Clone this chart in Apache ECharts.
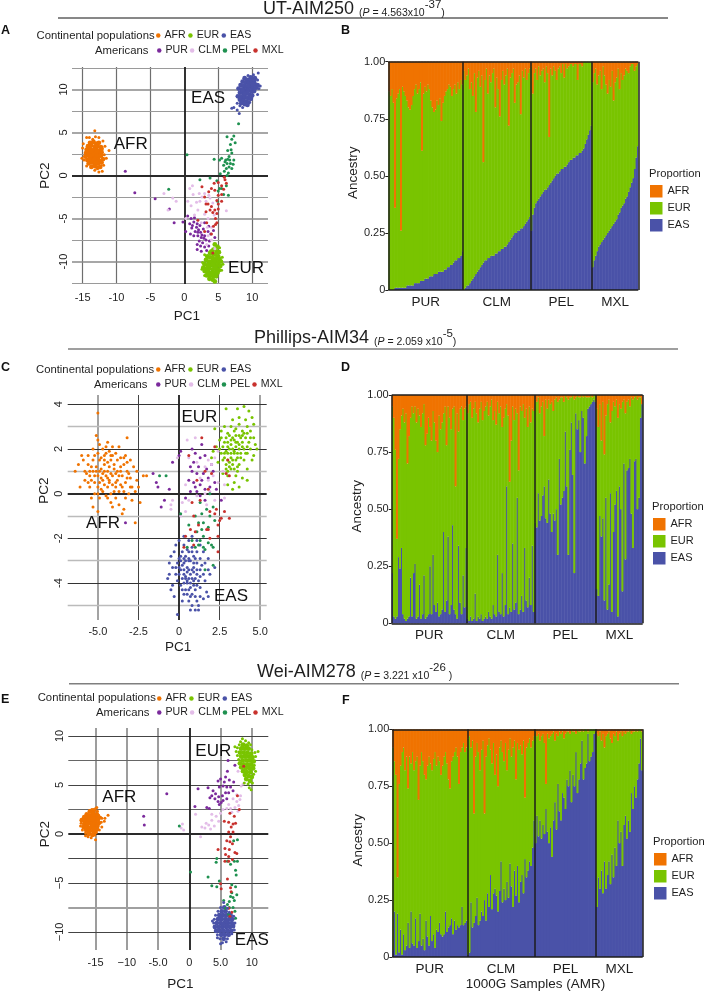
<!DOCTYPE html>
<html><head><meta charset="utf-8">
<style>html,body{margin:0;padding:0;background:#fff}#c{width:704px;height:992px}</style>
<script src="https://cdn.jsdelivr.net/npm/echarts@6/dist/echarts.min.js"></script></head>
<body><div id="c"></div><script>
// ---------- Panel A scatter values (PC1, PC2)
const A_AFR=[[-13.9,3.8],[-13.4,3.9],[-13.0,3.7],[-12.6,3.8],[-14.2,3.4],[-13.7,3.5],[-13.2,3.3],[-12.8,3.4],[-12.3,3.3],[-14.4,3.0],[-13.9,3.1],[-13.5,2.9],[-13.0,3.0],[-12.6,2.9],[-12.2,3.1],[-14.5,2.6],[-14.0,2.7],[-13.6,2.5],[-13.1,2.6],[-12.7,2.5],[-12.2,2.7],[-14.6,2.2],[-14.1,2.3],[-13.6,2.1],[-13.2,2.2],[-12.7,2.1],[-12.3,2.3],[-14.3,1.8],[-13.9,1.9],[-13.4,1.7],[-12.9,1.8],[-12.5,1.7],[-12.0,1.9],[-14.1,1.4],[-13.6,1.5],[-13.1,1.3],[-12.7,1.4],[-12.2,1.5],[-13.7,1.0],[-13.2,1.1],[-12.8,0.9],[-12.4,1.0],[-13.3,3.0],[-13.4,2.4],[-12.9,2.3],[-13.8,2.3],[-13.3,1.9],[-13.7,2.8],[-12.9,2.8],[-13.8,1.6],[-12.9,1.5]];
const A_AFR_EDGE=[[-13.2,5.2],[-14.4,4.4],[-14.0,4.4],[-13.5,4.2],[-13.1,4.5],[-12.6,4.4],[-12.0,4.0],[-11.7,3.4],[-11.8,2.4],[-11.5,2.0],[-11.1,2.9],[-14.9,3.7],[-15.0,3.2],[-15.1,2.0],[-14.8,1.8],[-14.4,1.1],[-13.2,0.6],[-12.6,0.4],[-12.1,0.5],[-11.9,1.2]];
const A_EUR=[[4.5,-8.0],[4.9,-8.3],[4.3,-8.6],[4.8,-8.8],[5.1,-8.9],[3.8,-9.0],[4.2,-9.1],[4.6,-9.2],[5.0,-9.4],[3.4,-9.4],[3.8,-9.5],[4.2,-9.6],[4.7,-9.7],[5.2,-9.7],[3.2,-9.8],[3.6,-10.0],[4.1,-10.0],[4.5,-10.1],[5.0,-10.1],[5.4,-10.0],[3.0,-10.3],[3.5,-10.4],[3.9,-10.4],[4.4,-10.5],[4.8,-10.5],[5.3,-10.5],[2.8,-10.7],[3.3,-10.8],[3.7,-10.8],[4.2,-10.9],[4.7,-10.9],[5.1,-11.0],[3.0,-11.1],[3.5,-11.2],[4.0,-11.3],[4.4,-11.3],[4.9,-11.3],[3.3,-11.6],[3.8,-11.6],[4.3,-11.7],[4.7,-11.7],[3.7,-12.0],[4.2,-12.1],[4.5,-12.3],[4.0,-8.8],[4.4,-9.9],[3.9,-10.1],[4.6,-10.7],[3.6,-10.5],[4.2,-10.3],[3.4,-11.5],[4.1,-11.6]];
const A_EUR_EDGE=[[3.0,-9.2],[2.7,-10.1],[2.6,-10.9],[3.0,-11.6],[5.6,-9.5],[5.7,-10.3],[5.5,-11.0],[5.2,-8.4]];
const A_EAS=[[9.8,11.4],[10.4,11.3],[8.9,11.3],[9.3,11.1],[9.8,11.0],[10.3,11.0],[8.6,10.9],[9.0,10.8],[9.5,10.7],[9.9,10.7],[10.4,10.6],[10.8,10.5],[8.3,10.5],[8.8,10.4],[9.2,10.3],[9.7,10.3],[10.1,10.2],[10.6,10.2],[8.0,10.1],[8.5,10.0],[8.9,9.9],[9.4,9.9],[9.9,9.8],[10.3,9.8],[8.2,9.6],[8.7,9.5],[9.1,9.5],[9.6,9.4],[10.0,9.3],[7.9,9.2],[8.4,9.1],[8.9,9.1],[9.4,9.0],[9.8,8.9],[8.2,8.8],[8.7,8.7],[9.1,8.6],[9.5,8.5],[8.4,8.4],[8.9,8.3],[9.3,8.2],[9.4,10.4],[9.3,9.6],[8.6,9.9],[10.1,10.6],[8.9,9.5]];
const A_EAS_EDGE=[[10.9,11.9],[10.2,11.7],[9.4,11.6],[10.8,11.1],[7.8,8.4],[8.2,8.1],[8.6,7.9],[7.3,7.9],[7.8,7.6],[8.1,7.2],[7.0,7.8],[10.8,9.4],[11.0,10.1],[11.2,10.4]];
const A_PUR=[[-8.7,0.5],[-7.3,-2.0],[-4.3,-2.7],[-2.2,-3.9],[-1.5,-5.5],[-0.2,-5.4],[0.2,-6.5],[0.5,-4.7],[1.0,-5.0],[1.5,-4.9],[0.8,-5.6],[1.4,-5.4],[1.9,-5.6],[1.1,-6.1],[1.6,-6.5],[2.1,-6.3],[2.4,-6.6],[2.8,-6.2],[1.4,-7.0],[2.0,-7.0],[2.5,-7.2],[3.0,-7.0],[3.5,-6.5],[2.2,-7.6],[2.7,-7.8],[3.2,-7.5],[3.7,-7.6],[2.4,-8.2],[3.0,-8.3],[1.9,-8.6],[2.5,-8.8],[3.3,-8.7],[1.9,-8.0],[3.6,-5.9],[4.3,-6.4],[4.5,-7.2],[3.6,-8.2],[0.9,-6.8],[2.3,-5.8],[3.0,-5.5],[1.8,-6.0],[2.6,-6.9],[1.2,-5.8],[2.0,-6.6],[2.9,-7.3],[3.9,-6.8]];
const A_CLM=[[1.2,-1.2],[0.8,-1.5],[-3.0,-2.1],[2.2,-2.1],[1.3,-2.2],[3.6,-2.3],[3.0,-2.1],[-1.7,-2.6],[-1.2,-3.0],[3.8,-2.6],[0.5,-3.0],[2.3,-3.0],[-2.4,-4.0],[1.0,-3.5],[2.0,-4.0],[3.0,-4.5],[6.2,-4.1],[1.5,-4.6],[3.5,-5.0],[2.5,-5.5],[4.0,-6.0],[3.5,-7.0],[3.3,-8.0],[4.5,-8.5],[4.0,-7.5],[3.2,-3.0],[2.6,-2.5],[4.2,-3.2],[0.2,-5.0],[1.8,-3.1],[4.4,-4.6],[3.4,-6.0]];
const A_PEL=[[8.0,6.0],[6.3,4.5],[7.3,4.6],[7.0,4.2],[7.5,3.8],[6.8,3.6],[6.9,3.0],[6.4,2.9],[7.0,2.6],[6.6,2.2],[4.4,1.9],[5.2,1.8],[6.1,1.8],[6.7,1.8],[7.3,1.8],[6.3,1.4],[6.8,1.4],[5.8,1.2],[6.6,1.0],[6.2,0.8],[7.0,0.8],[5.9,0.5],[6.5,0.3],[5.3,0.2],[0.4,2.4],[2.3,-0.5],[5.2,-1.5],[6.2,-1.2],[5.0,-1.8],[5.8,-2.2],[6.5,-2.3],[-2.3,-1.6],[3.8,-0.3],[4.8,-0.6],[6.0,1.6],[6.4,1.9],[5.5,2.0],[7.2,1.3],[6.3,0.0],[4.9,-3.0],[5.5,-1.5]];
const A_MXL=[[5.0,-0.8],[4.4,-0.9],[6.0,-0.5],[5.5,-1.2],[4.5,-1.7],[6.2,-0.9],[4.0,-1.5],[5.0,-2.3],[3.0,-2.5],[5.5,-2.2],[4.8,-2.9],[5.5,-3.0],[5.0,-3.3],[3.5,-3.3],[4.0,-3.6],[3.2,-3.3],[5.0,-3.9],[4.5,-4.0],[3.8,-4.0],[4.2,-4.3],[4.8,-4.4],[4.6,-5.0],[4.8,-5.5],[4.6,-5.7],[3.3,-5.5],[4.3,-5.9],[2.0,-5.2],[3.0,-6.5],[4.0,-6.8],[4.2,-9.0],[2.6,-1.3],[3.6,-1.9],[5.8,-1.6],[5.9,-0.2],[3.2,-4.2]];
// ---------- Panel C scatter values
const C_AFR=[[-5.0,3.6],[-5.1,2.6],[-5.0,2.4],[-3.2,2.5],[-4.4,2.3],[-4.9,2.2],[-4.1,2.1],[-5.3,2.0],[-4.7,2.0],[-3.7,2.1],[-4.3,1.9],[-3.9,1.8],[-5.0,1.8],[-5.6,1.7],[-4.6,1.7],[-3.3,1.7],[-6.0,1.7],[-5.9,1.5],[-5.3,1.5],[-4.9,1.5],[-4.2,1.5],[-3.6,1.6],[-3.0,1.5],[-6.2,1.3],[-5.6,1.3],[-5.1,1.2],[-4.6,1.3],[-4.0,1.3],[-3.4,1.3],[-2.8,1.2],[-6.4,1.0],[-5.8,1.0],[-5.3,1.0],[-4.8,1.1],[-4.4,1.0],[-3.8,1.0],[-3.2,1.0],[-2.6,1.0],[-5.5,0.8],[-5.0,0.8],[-4.5,0.8],[-4.1,0.8],[-3.5,0.8],[-3.0,0.7],[-5.8,0.6],[-5.2,0.5],[-4.7,0.6],[-4.3,0.6],[-3.8,0.6],[-3.3,0.5],[-2.6,0.6],[-6.1,0.3],[-5.5,0.3],[-5.0,0.3],[-4.4,0.3],[-3.9,0.3],[-3.5,0.3],[-2.9,0.3],[-2.5,0.3],[-5.2,0.0],[-4.7,0.1],[-4.2,0.0],[-3.7,0.1],[-3.1,0.0],[-2.7,0.1],[-4.9,-0.2],[-4.4,-0.2],[-3.9,-0.2],[-3.3,-0.2],[-5.4,-0.2],[-4.2,-0.4],[-3.7,-0.5],[-2.9,-0.3],[-5.3,-0.6],[-4.1,-0.6],[-3.4,-0.7],[-5.0,-0.8],[-3.5,-0.9],[-2.4,-0.4],[-2.7,-1.3],[-4.6,1.5],[-4.0,1.1],[-4.3,1.2],[-4.7,0.9],[-3.6,1.2],[-4.9,0.5],[-4.5,1.8],[-3.9,0.5],[-2.2,0.8],[-2.0,0.8],[-4.5,2.1],[-4.1,1.7],[-4.8,1.6],[-5.2,1.7],[-3.8,1.5],[-4.4,1.4],[-5.4,1.2],[-3.6,1.0],[-4.2,0.9],[-4.9,1.0],[-3.9,0.9],[-5.2,0.8],[-4.6,0.4],[-3.7,0.8],[-4.1,0.4],[-3.4,0.1],[-4.5,-0.1],[-5.0,0.0],[-3.2,0.7],[-5.6,0.5],[-4.8,0.7],[-4.4,0.7],[-3.6,0.4],[-4.0,0.1],[-4.6,1.0],[-5.5,1.0],[-3.2,1.4],[-4.2,1.7],[-3.4,1.6],[-5.1,1.0],[-4.3,0.5],[-4.8,0.2],[-3.0,0.3],[-5.7,0.9],[-5.4,0.6],[-3.1,0.9]];
const C_EUR=[[4.0,3.9],[3.6,3.8],[4.3,3.7],[2.9,3.8],[3.7,3.4],[4.5,3.4],[4.1,3.3],[3.3,3.3],[4.6,3.1],[3.7,3.1],[3.2,3.0],[2.8,3.0],[4.2,3.0],[2.2,2.9],[2.6,2.8],[3.0,2.7],[3.4,2.8],[3.9,2.8],[4.4,2.8],[2.9,2.5],[3.3,2.5],[3.7,2.6],[4.1,2.5],[4.6,2.5],[2.5,2.4],[3.0,2.3],[3.5,2.3],[3.9,2.3],[4.3,2.3],[4.7,2.2],[2.3,2.1],[2.7,2.1],[3.1,2.0],[3.5,2.1],[4.0,2.0],[4.4,2.0],[4.8,2.0],[2.1,1.9],[2.6,1.8],[3.0,1.8],[3.4,1.8],[3.8,1.8],[4.2,1.8],[4.6,1.7],[2.0,1.6],[2.8,1.6],[3.2,1.6],[3.6,1.6],[4.0,1.5],[4.5,1.5],[2.4,1.4],[2.9,1.3],[3.3,1.3],[3.7,1.3],[2.9,1.1],[3.2,1.1],[3.6,1.0],[4.2,1.1],[2.7,0.9],[3.0,0.8],[3.5,0.8],[3.9,0.7],[3.4,0.5],[3.0,0.4],[3.7,0.3],[4.2,0.6],[3.3,0.2],[2.6,2.5],[3.2,2.2],[3.7,2.0],[3.3,1.5],[3.0,1.5],[4.2,2.7],[3.5,2.6],[3.1,2.6],[3.4,2.4],[3.8,2.5],[4.0,2.7],[2.8,2.3],[3.3,2.0],[3.6,2.3],[4.2,2.1],[2.9,1.9],[3.2,1.8],[3.6,1.8],[3.9,2.1],[2.7,1.5],[3.1,1.4],[3.5,1.5],[3.8,1.6],[3.4,1.1],[3.1,1.2],[3.0,2.1],[2.5,2.0],[3.5,2.9],[4.4,2.5],[3.7,2.2],[3.4,1.9],[3.2,2.4],[3.9,2.6],[3.0,1.0],[2.8,1.8],[4.1,1.8],[3.6,1.2]];
const C_EAS=[[0.3,-1.9],[0.8,-1.9],[0.0,-2.1],[0.6,-2.1],[1.1,-2.1],[-0.2,-2.3],[0.3,-2.3],[0.8,-2.4],[1.3,-2.3],[-0.3,-2.6],[0.2,-2.6],[0.6,-2.6],[1.1,-2.6],[1.5,-2.6],[-0.5,-2.8],[0.0,-2.9],[0.4,-2.8],[0.9,-2.8],[1.3,-2.9],[1.8,-2.9],[-0.6,-3.1],[-0.1,-3.1],[0.3,-3.1],[0.7,-3.0],[1.1,-3.1],[1.6,-3.1],[-0.4,-3.3],[0.1,-3.4],[0.5,-3.3],[0.9,-3.3],[1.3,-3.4],[1.8,-3.4],[2.2,-3.3],[-0.6,-3.6],[-0.2,-3.6],[0.3,-3.6],[0.7,-3.6],[1.1,-3.6],[1.5,-3.6],[1.9,-3.6],[-0.7,-3.8],[-0.1,-3.9],[0.4,-3.8],[0.8,-3.8],[1.2,-3.9],[1.6,-3.9],[-0.4,-4.1],[0.1,-4.1],[0.5,-4.0],[0.9,-4.1],[1.3,-4.2],[-0.5,-4.3],[0.2,-4.3],[0.6,-4.3],[1.0,-4.3],[1.7,-4.4],[-0.3,-4.6],[0.3,-4.5],[0.7,-4.6],[1.3,-4.6],[1.8,-4.6],[0.2,-4.8],[0.6,-4.8],[1.1,-4.8],[1.5,-4.7],[0.8,-5.0],[1.2,-5.0],[1.0,-5.2],[0.7,-5.2],[1.2,-5.2],[-0.1,-5.4],[0.6,-3.4],[0.4,-3.0],[0.7,-4.0],[0.9,-3.5],[0.5,-3.9],[1.0,-2.9],[0.2,-3.8],[0.5,-2.5],[0.8,-2.6],[0.3,-2.9],[0.6,-3.0],[0.9,-3.1],[0.2,-3.2],[0.5,-3.5],[0.8,-3.4],[1.1,-3.4],[0.0,-3.6],[0.3,-3.4],[0.6,-3.8],[1.0,-3.8],[0.3,-4.0],[0.7,-4.2],[1.1,-4.1],[0.4,-4.3],[0.8,-4.5],[0.0,-3.3],[1.4,-3.2],[1.3,-3.7],[-0.2,-3.3],[0.1,-2.8],[0.6,-2.9],[0.4,-3.7],[0.9,-3.9],[0.5,-4.5],[1.0,-4.6],[0.1,-3.0]];
const C_PUR=[[-1.6,0.9],[-1.4,0.5],[-1.3,0.3],[-1.1,-0.6],[-0.6,0.2],[0.1,1.9],[0.0,1.7],[-0.4,1.4],[0.8,2.0],[1.0,1.8],[1.3,1.6],[0.9,1.4],[1.6,1.7],[0.7,1.2],[1.2,1.2],[1.7,1.1],[2.0,1.3],[1.1,0.9],[1.5,0.9],[2.1,1.0],[0.6,0.6],[0.9,0.5],[1.4,0.6],[1.8,0.7],[2.2,0.5],[0.7,0.1],[1.1,0.1],[1.6,0.2],[0.4,-0.2],[1.3,-0.1],[1.6,-0.3],[-3.3,-1.3],[-0.9,-0.3],[0.8,1.0],[1.4,2.2],[2.3,0.2],[1.0,0.3],[1.9,0.3],[1.3,0.4],[2.6,-0.3]];
const C_CLM=[[0.5,2.4],[1.0,2.5],[-0.1,1.6],[0.6,1.6],[1.1,1.4],[1.8,1.5],[2.2,1.6],[2.7,1.0],[1.6,1.2],[2.1,0.8],[1.8,0.6],[1.3,0.7],[2.4,0.5],[2.8,0.4],[0.4,0.4],[1.1,-0.1],[0.6,-0.3],[0.2,-0.4],[-0.4,-0.3],[-0.5,-0.5],[-0.5,-0.7],[0.4,-0.8],[1.7,-0.5],[2.2,-0.3],[1.6,0.0],[1.9,0.1],[2.8,-0.2],[2.0,1.3],[2.4,1.9],[0.1,-1.0]];
const C_PEL=[[-1.2,0.8],[-0.8,0.8],[1.3,-0.4],[1.9,0.0],[1.4,-0.9],[1.0,-1.0],[1.7,-0.7],[2.1,-0.6],[1.5,-1.3],[1.2,-1.3],[1.9,-1.0],[0.6,-1.4],[1.4,-1.6],[1.8,-1.5],[1.1,-1.7],[1.5,-1.9],[1.3,-2.1],[0.8,-2.1],[1.8,-2.2],[1.2,-2.3],[0.5,-2.4],[1.0,-2.4],[1.5,-2.4],[2.0,-2.3],[2.1,-2.4],[1.6,-2.5],[2.1,-3.2],[1.6,-3.4],[0.1,-0.9],[2.2,-1.2]];
const C_MXL=[[1.4,2.5],[2.2,2.1],[1.1,0.6],[2.0,0.9],[2.9,0.9],[3.1,0.8],[1.8,0.2],[0.8,-0.4],[1.3,-0.3],[2.3,-0.7],[2.8,-0.8],[1.9,-0.8],[2.2,-0.9],[0.9,-1.0],[1.2,-1.4],[2.5,-1.2],[2.6,-1.1],[3.1,-1.1],[0.7,-1.6],[1.8,-1.6],[2.4,-1.4],[1.0,-1.7],[1.7,-1.6],[0.4,-1.9],[1.9,-2.0],[2.4,-1.9],[0.9,-2.3],[0.3,-2.4],[2.4,-2.6],[3.0,1.5],[1.6,1.0],[0.6,1.7]];
// ---------- Panel E scatter values
const E_AFR=[[-15.3,2.4],[-15.9,2.3],[-15.4,2.1],[-14.8,2.0],[-16.4,2.0],[-15.9,1.9],[-15.3,1.8],[-14.6,1.8],[-16.8,1.7],[-16.3,1.6],[-15.7,1.6],[-15.1,1.5],[-14.6,1.5],[-17.2,1.4],[-16.7,1.3],[-16.1,1.3],[-15.6,1.3],[-15.0,1.2],[-14.5,1.1],[-16.8,1.0],[-16.3,1.0],[-15.7,1.0],[-15.2,0.9],[-14.7,0.8],[-16.9,0.7],[-16.4,0.7],[-15.9,0.6],[-15.3,0.6],[-14.8,0.5],[-16.5,0.4],[-16.0,0.3],[-15.4,0.3],[-15.0,0.2],[-16.1,0.0],[-15.5,-0.1],[-15.5,0.9],[-16.1,1.8],[-16.0,1.5],[-15.4,1.5]];
const E_AFR_EDGE=[[-14.8,2.7],[-14.7,2.3],[-14.2,1.7],[-17.3,1.1],[-17.4,0.8],[-17.1,0.4],[-16.6,0.1],[-15.1,-0.1],[-16.2,-0.3],[-15.7,-0.4],[-15.0,-0.6],[-16.6,-0.2],[-14.1,1.2],[-14.0,1.6],[-13.6,1.3],[-13.0,1.9],[-13.5,1.6],[-14.0,0.7],[-14.4,0.4],[-15.6,2.5],[-15.0,2.6]];
const E_EUR=[[8.6,9.1],[9.2,9.0],[8.3,8.7],[8.9,8.7],[9.5,8.7],[8.1,8.3],[8.7,8.3],[9.3,8.3],[9.9,8.2],[8.3,7.9],[8.9,7.9],[9.5,7.9],[10.1,7.8],[8.5,7.5],[9.1,7.5],[9.7,7.5],[10.3,7.4],[8.1,7.2],[8.7,7.1],[9.3,7.1],[9.9,7.1],[8.3,6.8],[9.0,6.7],[9.6,6.7],[10.2,6.7],[8.6,6.4],[9.2,6.3],[9.8,6.3],[8.9,6.0],[9.5,5.9],[10.0,5.8],[9.1,5.6],[9.7,5.4],[9.0,8.0],[9.4,7.0],[8.5,8.8],[9.9,7.9]];
const E_EUR_EDGE=[[8.5,9.7],[9.0,9.5],[8.2,9.4],[9.5,9.3],[8.0,9.1],[9.8,9.1],[7.7,8.8],[10.0,8.6],[7.5,8.4],[10.5,8.3],[11.0,8.4],[7.7,8.0],[10.6,7.9],[7.9,7.6],[10.4,7.0],[10.3,6.1],[9.4,5.1],[10.1,5.2],[9.6,4.7],[9.9,4.5],[8.8,5.2],[10.6,6.4],[7.3,8.9]];
const E_EAS=[[5.6,-7.5],[5.2,-7.9],[5.8,-7.9],[4.8,-8.3],[5.4,-8.3],[6.0,-8.3],[6.6,-8.3],[4.6,-8.7],[5.2,-8.7],[5.8,-8.7],[6.4,-8.7],[4.4,-9.1],[5.0,-9.1],[5.6,-9.1],[6.2,-9.1],[6.8,-9.1],[4.7,-9.5],[5.3,-9.5],[5.9,-9.5],[6.5,-9.5],[4.9,-9.9],[5.5,-9.9],[6.1,-9.9],[6.7,-9.9],[5.1,-10.3],[5.7,-10.3],[6.3,-10.3],[5.5,-10.7],[5.4,-9.2],[5.9,-8.9],[5.0,-8.5],[6.1,-9.4],[4.3,-9.9],[4.1,-9.5],[6.8,-8.7],[7.0,-9.4]];
const E_EAS_EDGE=[[5.5,-7.0],[5.0,-7.5],[6.1,-7.6],[4.6,-7.9],[6.4,-8.0],[4.2,-8.3],[7.1,-8.4],[4.0,-8.7],[7.0,-8.7],[3.9,-9.1],[7.3,-9.1],[7.1,-9.5],[7.2,-9.8],[4.5,-10.3],[6.8,-10.2],[4.9,-10.7],[6.1,-10.7],[5.3,-11.1],[5.0,-11.2],[5.9,-11.0],[4.5,-10.6],[3.7,-8.9]];
const E_PUR=[[-7.3,1.8],[-7.2,0.9],[-3.6,4.1],[1.4,4.6],[0.9,2.8],[3.0,4.7],[3.8,4.4],[4.2,4.1],[4.8,4.8],[5.4,4.9],[6.0,4.8],[6.6,4.8],[7.1,5.3],[5.0,5.6],[5.6,5.3],[4.6,5.4],[5.8,5.8],[6.4,5.5],[3.6,3.9],[4.1,3.6],[4.7,3.8],[5.3,3.9],[5.8,4.2],[6.3,4.2],[2.8,2.7],[3.2,2.6],[4.6,3.3],[5.1,3.2],[4.8,3.0],[5.4,3.4],[6.0,3.6],[7.0,4.4],[6.1,6.4],[7.3,7.0],[6.2,7.5],[3.3,3.7]];
const E_CLM=[[-1.1,1.0],[-1.3,0.6],[-0.9,0.4],[1.8,-0.3],[2.0,0.7],[2.5,0.6],[3.4,0.5],[3.1,0.9],[4.0,0.8],[2.7,1.1],[3.6,1.4],[4.7,1.3],[1.0,2.0],[3.6,2.0],[5.0,2.1],[4.3,1.8],[5.4,2.5],[6.0,2.6],[6.6,2.6],[7.3,2.7],[7.9,2.9],[6.3,3.0],[7.6,3.3],[8.1,3.5],[7.0,3.6],[6.8,2.2],[7.8,2.3],[8.2,3.9],[8.3,4.9],[8.6,5.1],[7.8,6.4],[7.6,4.0]];
const E_PEL=[[-1.6,0.8],[0.2,-3.9],[3.0,-4.4],[3.6,-5.3],[4.4,-5.4],[4.8,-4.8],[4.4,-2.5],[4.3,-2.9],[7.1,-0.7],[7.7,-0.6],[7.2,-2.8],[7.7,-2.8],[6.1,-2.8],[6.6,-3.1],[7.4,-3.7],[7.5,-4.2],[6.8,-5.2],[7.4,-5.4],[6.8,-6.0],[7.0,-6.5],[6.4,-6.9],[7.2,-6.8],[7.6,-6.2],[5.5,-6.8],[6.1,-7.2],[5.8,-7.6],[6.4,-7.5],[7.0,-7.5],[6.3,-8.2],[7.4,-8.6],[7.3,-7.9],[6.6,-6.4]];
const E_MXL=[[8.7,6.9],[7.7,3.9],[6.5,2.1],[8.0,2.5],[7.2,1.8],[5.6,1.3],[6.3,1.2],[7.0,1.0],[7.4,1.1],[6.7,0.7],[6.3,0.2],[7.0,0.2],[6.6,-0.3],[6.0,-0.7],[6.5,-0.8],[6.9,-1.0],[5.7,-1.5],[6.4,-1.6],[4.6,-1.6],[5.8,-2.1],[7.3,-1.9],[6.3,-2.3],[7.6,-2.0],[5.7,-2.8],[6.3,-2.8],[6.9,-2.6],[6.1,-4.6],[5.0,-5.1],[5.1,-5.6],[6.6,-5.5],[6.7,-5.9],[6.3,-7.6],[6.8,-8.0],[6.5,-8.4]];
// ---------- Bar values: percentage per sample, per population
const B_EAS_PUR=[0,0,0,0,1,1,1,1,1,1,1,1,2,2,2,2,2,3,3,3,3,4,4,4,5,5,5,6,6,6,7,7,7,8,8,8,8,9,9,10,10,11,11,12,13,13,14,14,15,17];
const B_EAS_CLM=[0,1,2,2,3,4,5,6,7,8,9,10,11,12,13,13,14,14,15,15,15,16,16,17,17,18,18,19,19,20,21,22,23,24,25,25,26,26,27,27,28,29,30,31,32];
const B_EAS_PEL=[26,33,36,38,39,40,41,42,43,44,44,45,46,47,48,49,50,51,51,52,53,53,54,54,55,56,57,57,58,58,59,59,60,60,61,62,64,66,68,70,72];
const B_EAS_MXL=[10,13,15,17,19,20,21,22,23,24,25,26,27,28,29,30,31,33,34,36,37,38,40,41,43,45,47,49,53,58,63];
const B_AFR_PUR=[13,15,12,18,64,16,14,12,74,11,13,15,17,20,21,19,15,12,10,14,12,9,39,14,11,13,10,12,17,20,22,21,17,19,16,26,18,15,13,12,10,11,15,12,10,14,9,12,8,10];
const B_AFR_CLM=[4,8,6,3,12,9,15,5,22,7,4,11,6,44,8,3,14,6,9,5,3,20,7,12,24,8,4,10,6,3,28,7,5,3,18,10,9,6,23,4,7,3,8,5,3];
const B_AFR_PEL=[2,14,5,3,8,2,6,4,3,9,2,5,33,3,6,2,4,8,3,2,5,1,7,1,3,2,1,1,2,1,1,8,1,1,2,0,0,0,0,0,0];
const B_AFR_MXL=[9,5,3,10,6,4,12,2,6,10,14,8,11,4,17,9,7,3,12,5,8,6,3,4,5,2,1,1,4,2,1];
const D_EAS_PUR=[22,3,2,3,29,24,33,4,2,1,2,3,20,3,22,26,2,3,17,2,4,21,2,3,4,25,4,30,8,5,9,3,4,6,40,5,10,38,4,8,43,6,4,2,34,9,4,21,7,33];
const D_EAS_CLM=[2,1,3,1,2,13,1,3,2,4,1,2,3,2,5,3,2,8,4,3,30,5,4,22,3,8,60,4,7,5,35,6,9,55,4,6,12,5,33,10,7,20,8,34,5];
const D_EAS_PEL=[44,42,57,45,47,56,60,46,44,63,48,40,48,45,50,30,72,52,55,58,84,60,30,76,88,65,22,92,85,89,75,93,90,70,82,94,95,96,97,98,97];
const D_EAS_MXL=[15,12,47,38,46,10,55,6,17,57,5,40,52,58,3,60,50,14,70,28,67,68,72,48,33,71,72,50,55,90,96];
const D_AFR_PUR=[5,10,24,63,28,15,9,6,12,8,30,18,10,5,8,5,12,6,9,14,8,4,22,17,10,14,20,7,12,20,25,9,15,12,8,5,22,5,10,15,6,5,40,8,16,6,5,11,6,5];
const D_AFR_CLM=[8,4,3,10,6,3,8,12,6,3,11,7,5,3,9,5,2,11,7,13,3,8,5,14,10,6,4,9,38,20,5,11,6,8,33,5,7,4,10,6,14,5,12,6,7];
const D_AFR_PEL=[2,3,1,8,5,3,18,2,6,2,4,3,7,2,1,3,2,1,1,3,0,1,2,1,1,0,2,1,0,1,1,0,1,0,1,1,1,0,1,0,0];
const D_AFR_MXL=[6,14,4,20,3,26,9,4,2,12,7,3,5,2,10,4,6,3,2,8,3,2,5,1,2,1,0,2,1,1,14];
const F_EAS_PUR=[3,20,1,19,2,12,1,10,3,5,15,4,20,6,5,17,4,7,19,5,8,3,16,9,5,18,7,10,4,12,11,15,10,9,10,20,11,13,14,17,10,16,12,14,13,14,22,14,15,16];
const F_EAS_CLM=[1,2,24,13,15,18,26,14,16,20,18,25,16,28,22,36,21,28,30,27,20,29,42,24,30,25,33,26,41,31,22,38,27,40,24,33,36,28,43,35,38,42,40,48,60];
const F_EAS_PEL=[50,62,53,60,52,58,54,65,55,50,57,44,60,68,56,76,64,60,72,70,65,78,75,82,68,80,75,90,72,78,85,95,78,83,85,98,86,88,90,98,99];
const F_EAS_MXL=[22,35,30,38,28,42,30,36,42,32,45,35,48,40,60,50,55,40,58,62,52,60,55,72,65,75,70,78,85,96,82];
const F_AFR_PUR=[8,14,20,65,24,16,10,8,18,12,26,12,15,10,18,14,12,31,16,10,14,20,22,16,12,15,18,13,10,16,12,14,20,16,12,10,15,22,26,14,12,10,8,12,24,10,8,6,10,8];
const F_AFR_CLM=[4,3,8,5,37,12,6,10,18,9,5,37,12,7,4,9,15,6,20,11,25,8,5,10,14,6,18,9,4,12,8,5,22,6,9,7,11,5,30,8,6,4,8,5,3];
const F_AFR_PEL=[1,3,2,5,3,2,6,24,2,4,3,2,1,5,2,3,1,2,1,4,2,1,1,2,0,1,1,2,0,1,1,0,1,0,0,1,0,0,0,0,0];
const F_AFR_MXL=[2,3,1,5,2,8,3,2,1,4,6,2,3,1,5,2,1,3,1,2,1,1,0,2,1,1,0,1,0,0,1];
// ---------- Labels
const POPULATIONS=['PUR','CLM','PEL','MXL'];
const Y_BAR_TICKS=['0','0.25','0.50','0.75','1.00'];
const A_X_TICKS=[-15,-10,-5,0,5,10], A_Y_TICKS=[-10,-5,0,5,10];
const C_X_TICKS=[-5,-2.5,0,2.5,5], C_X_LABELS=['-5.0','-2.5','0','2.5','5.0'], C_Y_TICKS=[-4,-2,0,2,4];
const E_X_TICKS=[-15,-10,-5,0,5,10], E_X_LABELS=['-15','\u221210','-5.0','0','5.0','10'], E_Y_TICKS=[-10,-5,0,5,10], E_Y_LABELS=['\u221210','\u22125','0','5','10'];

const COL={AFR:'#f07300',EUR:'#79c400',EAS:'#4a52a8',PUR:'#7b2a9c',CLM:'#e3bde8',PEL:'#1f9150',MXL:'#c8312d'};
const FONT='"Liberation Sans",Arial,sans-serif', INK='#1e1e1e';
const xAxis=[],yAxis=[],grid=[],series=[],legend=[],graphic=[],title=[];

function hideLine(a){return Object.assign({axisLine:{show:false},axisTick:{show:false},splitLine:{show:false}},a);}
function lines(gi,list){ // reference lines placed through the axis scales
  series.push({type:'scatter',name:'lines',xAxisIndex:gi.x,yAxisIndex:gi.y,data:[],silent:true,
    markLine:{silent:true,symbol:'none',animation:false,z:gi.z||1,label:{show:false},precision:6,
      data:list.map(l=>({[l.a]:l.v,lineStyle:{color:l.c,width:l.w,type:'solid',opacity:1}}))}});
}
function vs(arr,c,w){return arr.map(v=>({a:'xAxis',v,c,w}));}
function hs(arr,c,w){return arr.map(v=>({a:'yAxis',v,c,w}));}

function scatterPanel(o){
  const gi=grid.length;
  grid.push({left:o.left,top:o.top,width:o.width,height:o.height,containLabel:false});
  xAxis.push(hideLine({type:'value',gridIndex:gi,min:o.xr[0],max:o.xr[1],name:'PC1',nameLocation:'middle',nameGap:o.xGap,nameMoveOverlap:false,
    nameTextStyle:{fontFamily:FONT,fontSize:13.5,color:INK,padding:[0,0,0,o.xPad]},
    axisLabel:{customValues:o.xTicks,fontFamily:FONT,fontSize:11,color:INK,margin:o.xMargin,hideOverlap:false,showMinLabel:true,showMaxLabel:true,
      formatter:v=>{const i=o.xTicks.indexOf(v);return o.xLabels?o.xLabels[i]:String(v);}}}));
  yAxis.push(hideLine({type:'value',gridIndex:gi,min:o.yr[0],max:o.yr[1],name:'PC2',nameLocation:'middle',nameGap:o.yGap,nameRotate:90,nameMoveOverlap:false,
    nameTextStyle:{fontFamily:FONT,fontSize:13.5,color:INK,padding:[0,0,0,o.yPad]},
    axisLabel:{customValues:o.yTicks,rotate:90,fontFamily:FONT,fontSize:11,color:INK,margin:3,hideOverlap:false,
      formatter:v=>{const i=o.yTicks.indexOf(v);return o.yLabels?o.yLabels[i]:String(v);}}}));
  lines({x:xAxis.length-1,y:yAxis.length-1},o.gridLines);
  for(const n of ['AFR','EUR','EAS','PUR','CLM','PEL','MXL'])
    series.push({type:'scatter',name:n,xAxisIndex:xAxis.length-1,yAxisIndex:yAxis.length-1,data:o.pts[n],symbol:'circle',
      symbolSize:(o.dense&&o.dense[n])?4.8:o.size,itemStyle:{color:COL[n],opacity:1},silent:true,z:3});
  if(o.edge) for(const n of ['AFR','EUR','EAS'])
    series.push({type:'scatter',name:n,xAxisIndex:xAxis.length-1,yAxisIndex:yAxis.length-1,data:o.edge[n],symbol:'circle',
      symbolSize:o.size,itemStyle:{color:COL[n],opacity:1},silent:true,z:3});
  series.push({type:'scatter',name:'tags',xAxisIndex:xAxis.length-1,yAxisIndex:yAxis.length-1,symbolSize:1,silent:true,z:4,
    itemStyle:{color:'rgba(0,0,0,0)'},data:o.tags.map(t=>({value:[t[0],t[1]],label:{show:true,position:'inside',formatter:t[2],fontFamily:FONT,fontSize:17,color:'#111',textBorderWidth:0,opacity:1}}))});
  graphic.push({type:'text',left:o.c1[0],top:o.c1[1]-6,style:{text:'Continental populations',fontFamily:FONT,fontSize:11.3,fill:INK}});
  graphic.push({type:'text',left:o.c2[0],top:o.c2[1]-6,style:{text:'Americans',fontFamily:FONT,fontSize:11.3,fill:INK}});
  const ic=n=>({name:n,icon:'circle'});
  const lg={orient:'horizontal',itemWidth:4.5,itemHeight:4.5,selectedMode:false,padding:0,textStyle:{fontFamily:FONT,fontSize:10.6,color:INK,padding:[0,0,0,-1]}};
  legend.push(Object.assign({},lg,{itemGap:2.5,left:o.l1[0],top:o.l1[1],data:['AFR','EUR','EAS'].map(ic)}));
  legend.push(Object.assign({},lg,{itemGap:2,left:o.l2[0],top:o.l2[1],data:POPULATIONS.map(ic)}));
}
function barPanel(o){
  const gi=grid.length;
  grid.push({left:o.left,top:o.top,width:o.width,height:o.height});
  const eas=[],afr=[],cats=[],centers=[],edges=[0];let n=0;
  POPULATIONS.forEach((p,k)=>{const e=o.eas[k],a=o.afr[k];
    e.forEach((v,i)=>{eas.push(v/100);afr.push(a[i]/100);cats.push(p+(i+1));});
    centers.push(n+e.length/2);n+=e.length;edges.push(n);});
  const eur=eas.map((v,i)=>Math.max(0,1-v-afr[i]));
  const xCat=xAxis.length;
  xAxis.push({type:'category',gridIndex:gi,data:cats,show:false,boundaryGap:true});
  const xVal=xAxis.length;
  xAxis.push(hideLine({type:'value',gridIndex:gi,min:0,max:n,position:'bottom',name:o.xName||'',nameLocation:'middle',nameGap:20,nameMoveOverlap:false,
    nameTextStyle:{fontFamily:FONT,fontSize:13.5,color:INK,padding:[0,0,0,36]},
    axisLabel:{customValues:centers,fontFamily:FONT,fontSize:13.5,color:INK,margin:5,hideOverlap:false,
      formatter:v=>POPULATIONS[centers.indexOf(v)]}}));
  const yi=yAxis.length;
  yAxis.push({type:'value',gridIndex:gi,min:0,max:1,interval:0.25,name:'Ancestry',nameLocation:'middle',nameGap:o.yGap,nameMoveOverlap:false,
    nameTextStyle:{fontFamily:FONT,fontSize:13.5,color:INK,padding:[0,0,0,6]},
    axisLine:{show:false},splitLine:{show:false},axisTick:{show:true,length:3,lineStyle:{color:INK,width:1}},
    axisLabel:{fontFamily:FONT,fontSize:11,color:INK,margin:3,formatter:v=>Y_BAR_TICKS[Math.round(v*4)]}});
  const st='s'+gi;
  const bw=o.width/n+0.5; // slight overlap so neighbouring thin bars leave no seams
  [['EAS',eas],['EUR',eur],['AFR',afr]].forEach(([nm,d])=>series.push({type:'bar',name:nm,stack:st,xAxisIndex:xCat,yAxisIndex:yi,data:d,barWidth:bw,
    itemStyle:{color:COL[nm]},silent:true,z:2}));
  lines({x:xVal,y:yi,z:6},[...vs(edges,'#1c1c1c',1.5),...hs([0,1],'#1c1c1c',1.5)]);
  graphic.push({type:'text',left:o.p[0],top:o.p[1]-6.5,style:{text:'Proportion',fontFamily:FONT,fontSize:11.2,fill:INK}});
  legend.push({orient:'vertical',left:o.l[0],top:o.l[1],itemWidth:12.5,itemHeight:12.5,itemGap:4.5,padding:0,selectedMode:false,
    textStyle:{fontFamily:FONT,fontSize:11,color:INK},data:['AFR','EUR','EAS'].map(n=>({name:n,icon:'rect'}))});
}

scatterPanel({left:72,top:67,width:196,height:217,xr:[-16.56,12.34],yr:[-12.6,12.6],xTicks:A_X_TICKS,yTicks:A_Y_TICKS,
  xGap:25,xPad:34,yGap:20,yPad:0,xMargin:8,size:3,dense:{AFR:1,EUR:1,EAS:1},edge:{AFR:A_AFR_EDGE,EUR:A_EUR_EDGE,EAS:A_EAS_EDGE},
  pts:{AFR:A_AFR,EUR:A_EUR,EAS:A_EAS,PUR:A_PUR,CLM:A_CLM,PEL:A_PEL,MXL:A_MXL},
  tags:[[3.5,9.0,'EAS'],[-7.9,3.6,'AFR'],[9.1,-10.8,'EUR']],c1:[36.5,36],c2:[95,51],l1:[156,30],l2:[157,45],
  gridLines:[...vs([-15,-10,-5,5,10],'#6e6e6e',1.2),...hs([10,5,-5,-10],'#8a8a8a',1.6),...hs([12.5,7.5,2.5,-2.5,-7.5,-12.5],'#9a9a9a',1),...vs([0],'#1c1c1c',1.8),...hs([0],'#2a2a2a',1.8)]});
barPanel({left:388.3,top:61.7,width:250,height:228.3,eas:[B_EAS_PUR,B_EAS_CLM,B_EAS_PEL,B_EAS_MXL],afr:[B_AFR_PUR,B_AFR_CLM,B_AFR_PEL,B_AFR_MXL],yGap:28,p:[649,175],l:[650,185]});
scatterPanel({left:67.7,top:395,width:199,height:225,xr:[-6.86,5.40],yr:[-5.65,4.41],xTicks:C_X_TICKS,xLabels:C_X_LABELS,yTicks:C_Y_TICKS,
  xGap:20,xPad:22,yGap:16,yPad:34,xMargin:6,size:3,
  pts:{AFR:C_AFR,EUR:C_EUR,EAS:C_EAS,PUR:C_PUR,CLM:C_CLM,PEL:C_PEL,MXL:C_MXL},
  tags:[[1.25,3.4,'EUR'],[-4.68,-1.32,'AFR'],[3.2,-4.6,'EAS']],c1:[36,370],c2:[94,385],l1:[156,364],l2:[156,379],
  gridLines:[...vs([-5,5],'#8c8c8c',1.6),...vs([-2.5,2.5],'#444',1),...hs([4,2,-2,-4],'#333',1),...hs([3,1,-1,-3,-5],'#bbb',1.4),...vs([0],'#1c1c1c',1.8),...hs([0],'#2a2a2a',1.8)]});
barPanel({left:391.7,top:395,width:251,height:228.3,eas:[D_EAS_PUR,D_EAS_CLM,D_EAS_PEL,D_EAS_MXL],afr:[D_AFR_PUR,D_AFR_CLM,D_AFR_PEL,D_AFR_MXL],yGap:27,p:[652,508],l:[653,518]});
scatterPanel({left:68.3,top:728,width:200,height:223.7,xr:[-19.36,12.64],yr:[-11.85,10.81],xTicks:E_X_TICKS,xLabels:E_X_LABELS,yTicks:E_Y_TICKS,yLabels:E_Y_LABELS,
  xGap:27,xPad:24,yGap:16,yPad:10,xMargin:7,size:3,dense:{AFR:1,EUR:1,EAS:1},edge:{AFR:E_AFR_EDGE,EUR:E_EUR_EDGE,EAS:E_EAS_EDGE},
  pts:{AFR:E_AFR,EUR:E_EUR,EAS:E_EAS,PUR:E_PUR,CLM:E_CLM,PEL:E_PEL,MXL:E_MXL},
  tags:[[3.84,8.48,'EUR'],[-11.2,3.7,'AFR'],[10,-10.9,'EAS']],c1:[37.7,698.7],c2:[96,713.3],l1:[157,693],l2:[157,707],
  gridLines:[...vs([-15,-10,-5,5,10],'#7d7d7d',1.5),...hs([10,5,-2.5,-5,-10],'#444',1),...hs([7.5,2.5],'#666',1.2),...hs([-7.5],'#a0a0a0',1.8),...vs([0],'#1c1c1c',1.8),...hs([0],'#2a2a2a',1.8)]});
barPanel({left:392.3,top:729.3,width:250.4,height:228,eas:[F_EAS_PUR,F_EAS_CLM,F_EAS_PEL,F_EAS_MXL],afr:[F_AFR_PUR,F_AFR_CLM,F_AFR_PEL,F_AFR_MXL],yGap:27,xName:'1000G Samples (AMR)',p:[653,842.7],l:[654,853]});

// Headings and their rules
const base={fontFamily:FONT,fontWeight:'normal',color:INK};
const rich={a:{...base,fontSize:18,lineHeight:20},b:{...base,fontSize:10.5,verticalAlign:'bottom',lineHeight:16},i:{...base,fontSize:10.5,fontStyle:'italic',verticalAlign:'bottom',lineHeight:16},s:{...base,fontSize:11.5,verticalAlign:'top',lineHeight:14}};
[['UT-AIM250','= 4.563x10','-37',')',263,-1],['Phillips-AIM34','= 2.059 x10','-5',')',254,328],['Wei-AIM278','= 3.221 x10','-26',' )',257,662]].forEach(t=>{
  title.push({text:`{a|${t[0]}} {b|(}{i|P}{b| ${t[1]}}{s|${t[2]}}{b|${t[3]}}`,left:t[4],top:t[5],padding:0,textStyle:{fontWeight:'normal',rich}});
});
[[58,668,18,'#111',1],[68,678,349,'#7f7f7f',1.6],[69,679,683.7,'#7f7f7f',1.6]].forEach(r=>
  graphic.push({type:'line',shape:{x1:r[0],y1:r[2],x2:r[1],y2:r[2]},style:{stroke:r[3],lineWidth:r[4]}}));
[['A',1,24],['B',341,24],['C',1,361],['D',341,361],['E',1,693],['F',342,694]].forEach(l=>
  graphic.push({type:'text',left:l[1],top:l[2],style:{text:l[0],fontFamily:FONT,fontSize:12.5,fontWeight:'bold',fill:'#111'}}));

const chart=echarts.init(document.getElementById('c'),null,{renderer:'canvas'});
chart.setOption({animation:false,backgroundColor:'#fff',textStyle:{fontFamily:FONT},title,grid,xAxis,yAxis,series,legend,graphic});
</script></body></html>
